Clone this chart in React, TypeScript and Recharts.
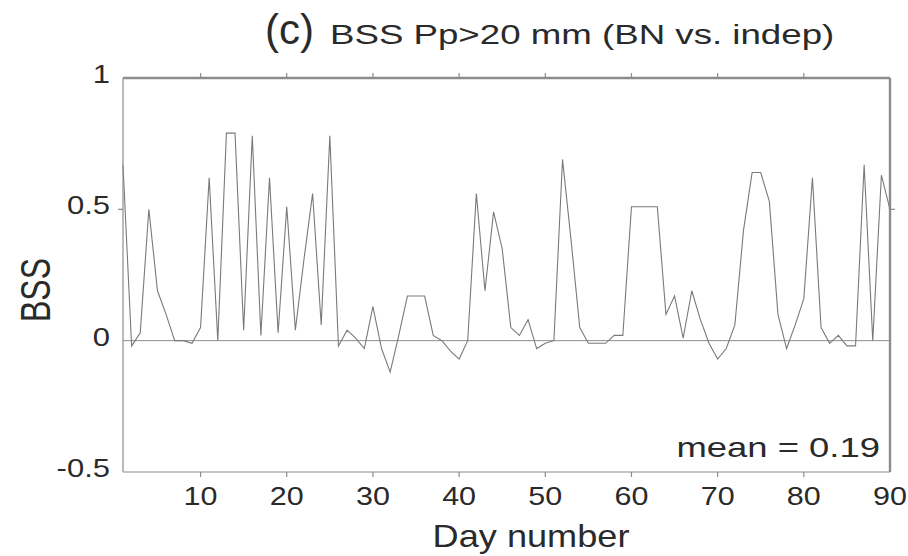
import React from "react";
import { LineChart, Line, XAxis, YAxis, ReferenceLine } from "recharts";

// daily Brier skill score, BN vs. indep, Pp > 20 mm
const BSS = [
  0.67, -0.02, 0.03, 0.5, 0.19, 0.1, 0.0, 0.0, -0.01, 0.05,
  0.62, 0.0, 0.79, 0.79, 0.04, 0.78, 0.02, 0.62, 0.03, 0.51,
  0.04, 0.31, 0.56, 0.06, 0.78, -0.02, 0.04, 0.01, -0.03, 0.13,
  -0.03, -0.12, 0.02, 0.17, 0.17, 0.17, 0.02, 0.0, -0.04, -0.07,
  0.0, 0.56, 0.19, 0.49, 0.35, 0.05, 0.02, 0.08, -0.03, -0.01,
  0.0, 0.69, 0.38, 0.05, -0.01, -0.01, -0.01, 0.02, 0.02, 0.51,
  0.51, 0.51, 0.51, 0.1, 0.17, 0.01, 0.19, 0.08, -0.01, -0.07,
  -0.03, 0.06, 0.42, 0.64, 0.64, 0.53, 0.1, -0.03, 0.06, 0.16,
  0.62, 0.05, -0.01, 0.02, -0.02, -0.02, 0.67, 0.0, 0.63, 0.5,
];
const DAYS = BSS.map((_, i) => i + 1);
const X_TICKS = [10, 20, 30, 40, 50, 60, 70, 80, 90];
const Y_TICKS = [-0.5, 0, 0.5, 1];
const INNER_X = [10, 20, 30, 40, 50, 60, 70, 80];
const INNER_Y = [0.5];
const X_MAX = 90;
const Y_MAX = 1;
const MEAN = "0.19";

const data = DAYS.map((day, i) => ({ day, bss: BSS[i] }));

const FRAME = "#8c8c8c";
const INK = "#2a2a2a";
const FONT = "'Liberation Sans', Arial, sans-serif";

const BottomTick = (props: any) => {
  const { x, y, payload } = props;
  return (
    <text
      transform={`translate(${x},${y + 33}) scale(1.22,1)`}
      textAnchor="middle"
      fontFamily={FONT}
      fontSize={25}
      fill={INK}
    >
      {payload.value}
    </text>
  );
};

const LeftTick = (props: any) => {
  const { x, y, payload } = props;
  return (
    <text
      transform={`translate(${x - 13},${y + 5}) scale(1.24,1)`}
      textAnchor="end"
      fontFamily={FONT}
      fontSize={25}
      fill={INK}
    >
      {payload.value}
    </text>
  );
};

// short inward marks at both ends of a vertical reference line
const VTicks = (p: any) => (
  <g stroke={FRAME} strokeWidth={1.2}>
    <line x1={p.x1} x2={p.x1} y1={p.y1} y2={p.y1 + 5} />
    <line x1={p.x2} x2={p.x2} y1={p.y2} y2={p.y2 - 5} />
  </g>
);

// short inward marks at both ends of a horizontal reference line
const HTicks = (p: any) => (
  <g stroke={FRAME} strokeWidth={1.2}>
    <line x1={p.x1} x2={p.x1 - 5} y1={p.y1} y2={p.y1} />
    <line x1={p.x2} x2={p.x2 + 5} y1={p.y2} y2={p.y2} />
  </g>
);

export default function App() {
  return (
    <div style={{ position: "absolute", left: 0, top: 0, width: 908, height: 556, background: "#fff" }}>
      <LineChart
        width={908}
        height={556}
        data={data}
        margin={{ top: 78, right: 18, bottom: 0, left: 0 }}
      >
        <XAxis
          dataKey="day"
          type="number"
          domain={[1, 90]}
          ticks={X_TICKS}
          height={84}
          tickSize={0}
          tickMargin={0}
          tickLine={false}
          axisLine={{ stroke: FRAME, strokeWidth: 1.2 }}
          tick={<BottomTick />}
          interval={0}
        />
        <YAxis
          type="number"
          domain={[-0.5, 1]}
          ticks={Y_TICKS}
          width={123}
          tickSize={0}
          tickMargin={0}
          tickLine={false}
          axisLine={{ stroke: FRAME, strokeWidth: 1.2 }}
          tick={<LeftTick />}
          interval={0}
        />
        {/* top/right frame edges sit on the clip boundary, so only the inner half shows */}
        <ReferenceLine y={Y_MAX} stroke={FRAME} strokeWidth={2.4} />
        <ReferenceLine x={X_MAX} stroke={FRAME} strokeWidth={2.4} />
        {INNER_X.map((t) => (
          <ReferenceLine key={`vx${t}`} x={t} shape={VTicks} />
        ))}
        {INNER_Y.map((t) => (
          <ReferenceLine key={`hy${t}`} y={t} shape={HTicks} />
        ))}
        <ReferenceLine y={0} stroke={FRAME} strokeWidth={1} />
        <Line
          type="linear"
          dataKey="bss"
          stroke="#7a7a7a"
          strokeWidth={1.1}
          dot={false}
          isAnimationActive={false}
        />
      </LineChart>
      <svg
        width={908}
        height={556}
        style={{ position: "absolute", left: 0, top: 0, pointerEvents: "none" }}
      >
        <text x={265} y={44} fontFamily={FONT} fontSize={42} fill={INK}>
          (c)
        </text>
        <text
          transform="translate(330,44) scale(1.31,1)"
          fontFamily={FONT}
          fontSize={28}
          fill={INK}
        >
          BSS Pp&gt;20 mm (BN vs. indep)
        </text>
        <text
          transform="translate(531,547) scale(1.13,1)"
          textAnchor="middle"
          fontFamily={FONT}
          fontSize={32}
          fill={INK}
        >
          Day number
        </text>
        <text
          transform="translate(50,290) scale(1.3,1) rotate(-90)"
          textAnchor="middle"
          fontFamily={FONT}
          fontSize={32}
          fill={INK}
        >
          BSS
        </text>
        <text
          transform="translate(880,457) scale(1.35,1)"
          textAnchor="end"
          fontFamily={FONT}
          fontSize={27}
          fill={INK}
        >
          mean = {MEAN}
        </text>
      </svg>
    </div>
  );
}
